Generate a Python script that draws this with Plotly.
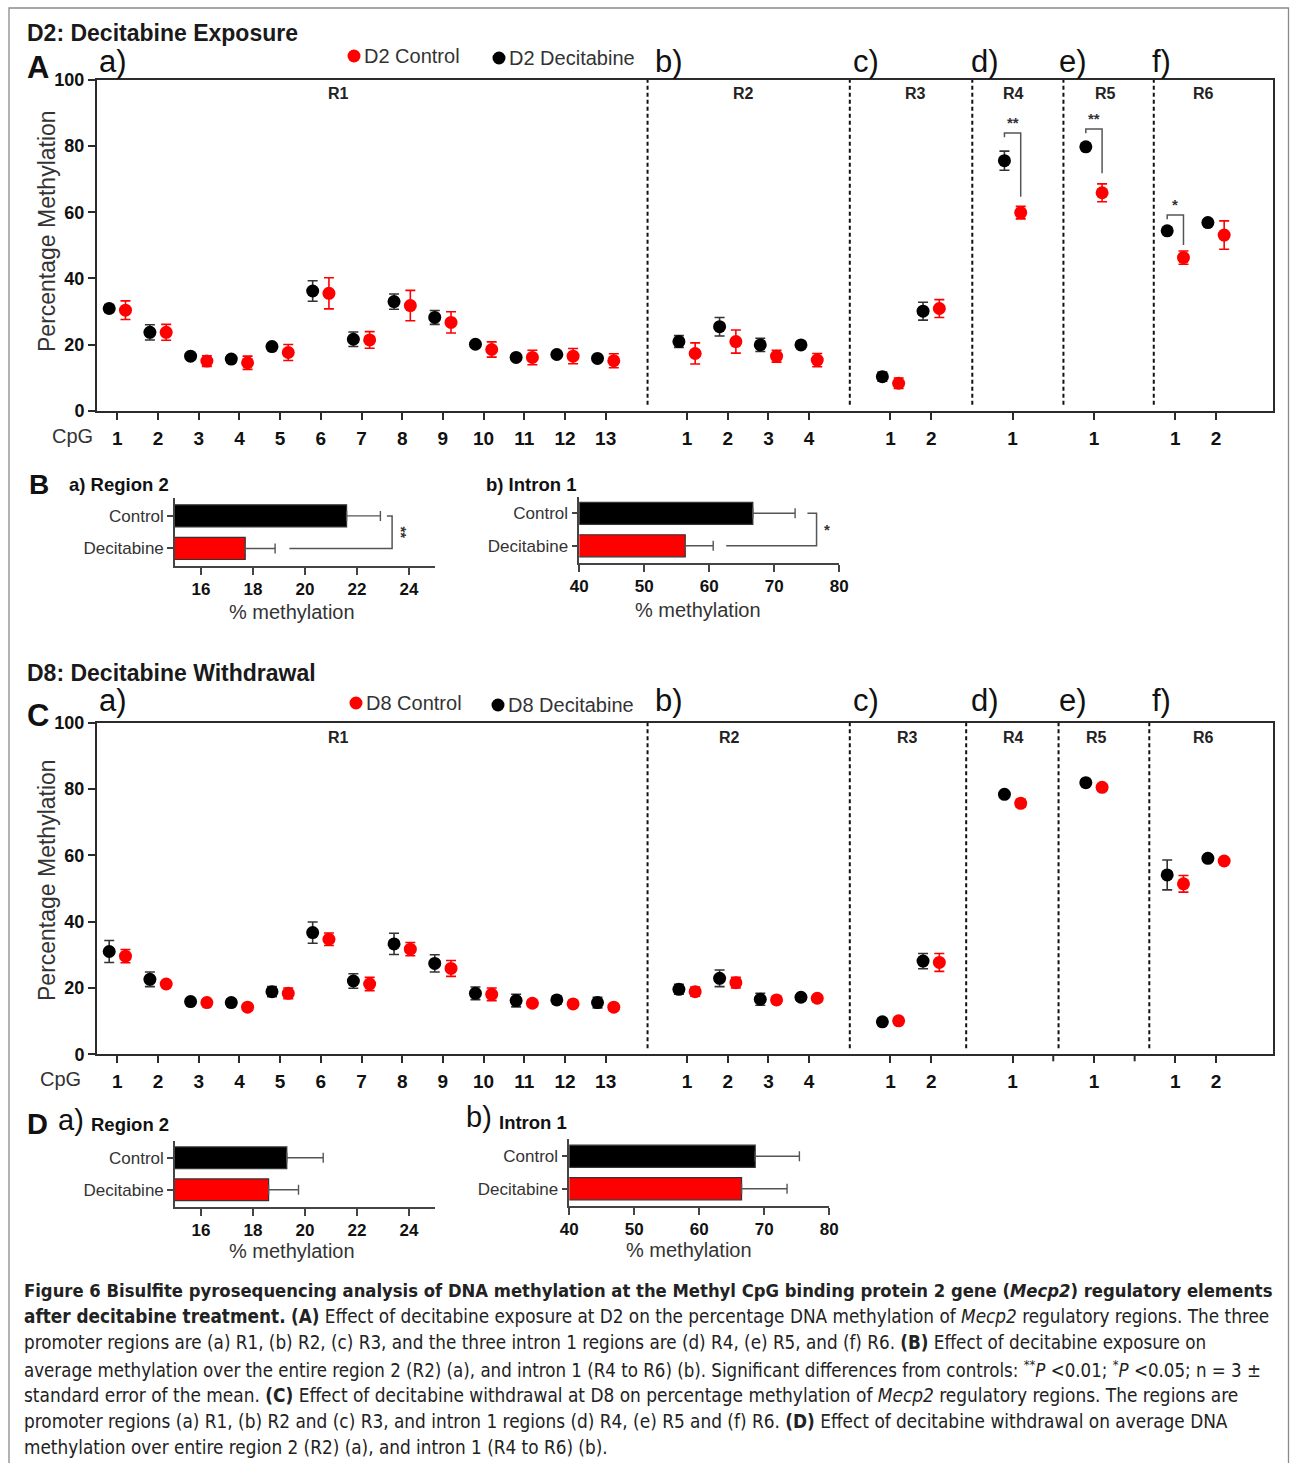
import plotly.graph_objects as go

W, H = 1290, 1463
FONT = "Liberation Sans, Arial, sans-serif"
CAP_FONT = "DejaVu Sans Condensed, Liberation Sans Narrow, Liberation Sans, sans-serif"

# ---------------- data ----------------
REGIONS = ["R1", "R2", "R3", "R4", "R5", "R6"]
REGION_TAGS = ["a)", "b)", "c)", "d)", "e)", "f)"]
CPG_PER_REGION = [13, 4, 2, 1, 1, 2]

A_DEC_MEAN = [30.9, 23.7, 16.5, 15.6, 19.4, 36.2, 21.6, 33.0, 28.2, 20.1, 16.1, 17.0, 15.8,
              20.9, 25.4, 19.9, 19.9, 10.3, 30.1, 75.6, 79.8, 54.4, 56.9]
A_DEC_SEM = [1.2, 2.3, 0.5, 1.0, 0.5, 3.1, 2.2, 2.3, 2.1, 0.8, 0.8, 0.8, 0.5,
             1.8, 2.8, 2.0, 0.7, 1.4, 2.7, 2.9, 0.8, 0.8, 0.8]
A_CON_MEAN = [30.4, 23.7, 15.0, 14.5, 17.6, 35.5, 21.4, 31.8, 26.7, 18.5, 16.1, 16.5, 15.1,
              17.3, 20.9, 16.5, 15.3, 8.3, 30.9, 59.9, 65.9, 46.3, 53.1]
A_CON_SEM = [2.8, 2.4, 1.6, 2.0, 2.4, 4.7, 2.5, 4.6, 3.2, 2.3, 2.2, 2.3, 2.1,
             3.2, 3.5, 1.8, 2.0, 1.6, 2.7, 1.9, 2.7, 2.0, 4.3]

C_DEC_MEAN = [31.0, 22.6, 15.9, 15.6, 18.9, 36.7, 22.1, 33.3, 27.4, 18.4, 16.2, 16.4, 15.6,
              19.6, 22.9, 16.6, 17.2, 9.8, 28.1, 78.4, 81.9, 54.1, 59.1]
C_DEC_SEM = [3.3, 2.2, 0.8, 1.0, 1.5, 3.2, 2.2, 3.2, 2.6, 1.9, 1.9, 1.2, 1.6,
             1.5, 2.5, 1.8, 1.0, 0.5, 2.3, 0.6, 0.6, 4.5, 1.0]
C_CON_MEAN = [29.6, 21.2, 15.6, 14.2, 18.4, 34.7, 21.2, 31.7, 25.9, 18.1, 15.4, 15.2, 14.2,
              18.9, 21.6, 16.4, 16.9, 10.1, 27.7, 75.7, 80.5, 51.4, 58.3]
C_CON_SEM = [2.0, 1.0, 0.6, 0.8, 1.6, 1.9, 2.0, 2.0, 2.4, 1.9, 1.0, 1.0, 1.0,
             1.4, 1.6, 1.0, 1.0, 0.8, 2.7, 1.2, 1.0, 2.5, 0.5]

A_SIG = [(3, "**"), (4, "**"), (5, "*")]
A_SIG_TOP = [84.0, 85.2, 59.2]
A_SIG_BOTTOM = [64.7, 71.8, 50.1]

BAR_GROUPS = ["Control", "Decitabine"]
B_R2_MEAN = [21.6, 17.7]
B_R2_SEM = [1.3, 1.15]
B_IN1_MEAN = [66.7, 56.3]
B_IN1_SEM = [6.5, 4.3]
D_R2_MEAN = [19.3, 18.6]
D_R2_SEM = [1.4, 1.15]
D_IN1_MEAN = [68.6, 66.5]
D_IN1_SEM = [6.8, 7.0]

R2_TICKS = [16, 18, 20, 22, 24]
IN1_TICKS = [40, 50, 60, 70, 80]


def px(x):
    return x / W


def py(y):
    return 1 - y / H


cpg_pos, cpg_lab, seps = [], [], []
cur = 1
for k, n in enumerate(CPG_PER_REGION):
    for i in range(n):
        cpg_pos.append(cur + i)
        cpg_lab.append(str(i + 1))
    if k < len(CPG_PER_REGION) - 1:
        seps.append(cur + n)
    cur += n + 1
region_start = []
c = 1
for n in CPG_PER_REGION:
    region_start.append(c)
    c += n + 1

fig = go.Figure()
shapes = []
annotations = []

BLACK = "#000000"
RED = "#ff0000"
AX = "#2b2b2b"


def ann(x, y, text, size, bold=False, xanchor="center", yanchor="middle", color="#1a1a1a",
        angle=0, family=FONT, xref="paper", yref="paper"):
    annotations.append(dict(
        x=px(x) if xref == "paper" else x, y=py(y) if yref == "paper" else y,
        xref=xref, yref=yref, text=text, showarrow=False, xanchor=xanchor, yanchor=yanchor,
        textangle=angle, font=dict(family=family, size=size, color=color,
                                   weight=700 if bold else 400)))


def scatter_panel(ax, dec_m, dec_s, con_m, con_s, dec_name, con_name):
    xs = "x" if ax == 1 else "x%d" % ax
    ys = "y" if ax == 1 else "y%d" % ax
    fig.add_trace(go.Scatter(
        x=[p - 0.2 for p in cpg_pos], y=dec_m, mode="markers", name=dec_name,
        xaxis=xs, yaxis=ys, showlegend=False,
        marker=dict(color=BLACK, size=13),
        error_y=dict(type="data", array=dec_s, visible=True, color="#333333",
                     thickness=1.6, width=5)))
    fig.add_trace(go.Scatter(
        x=[p + 0.2 for p in cpg_pos], y=con_m, mode="markers", name=con_name,
        xaxis=xs, yaxis=ys, showlegend=False,
        marker=dict(color=RED, size=13),
        error_y=dict(type="data", array=con_s, visible=True, color=RED,
                     thickness=1.6, width=5)))


scatter_panel(1, A_DEC_MEAN, A_DEC_SEM, A_CON_MEAN, A_CON_SEM, "D2 Decitabine", "D2 Control")
scatter_panel(2, C_DEC_MEAN, C_DEC_SEM, C_CON_MEAN, C_CON_SEM, "D8 Decitabine", "D8 Control")


def bar_panel(ax, means, sems):
    xs = "x%d" % ax
    ys = "y%d" % ax
    fig.add_trace(go.Bar(
        x=means, y=[1, 0], orientation="h", xaxis=xs, yaxis=ys, width=0.68,
        showlegend=False,
        marker=dict(color=[BLACK, RED], line=dict(color="#333333", width=1.2)),
        error_x=dict(type="data", symmetric=False, array=sems, arrayminus=[0, 0],
                     color="#555555", thickness=1.4, width=5)))


bar_panel(3, B_R2_MEAN, B_R2_SEM)
bar_panel(4, B_IN1_MEAN, B_IN1_SEM)
bar_panel(5, D_R2_MEAN, D_R2_SEM)
bar_panel(6, D_IN1_MEAN, D_IN1_SEM)

scatter_y = dict(range=[0, 100], tickvals=[0, 20, 40, 60, 80, 100], ticks="outside",
                 ticklen=7, tickwidth=2, tickcolor=AX, showline=True, linecolor=AX,
                 linewidth=2, mirror=True, showgrid=False, zeroline=False, automargin=False,
                 tickfont=dict(family=FONT, size=18, color="#111", weight=700))

scatter_x = dict(range=[0.5, 29.4], tickvals=cpg_pos, ticktext=cpg_lab, ticks="outside",
                 ticklen=7, tickwidth=2, tickcolor=AX, showline=True, linecolor=AX, linewidth=2,
                 mirror=True, showgrid=False, zeroline=False, ticklabelstandoff=2,
                 automargin=False,
                 tickfont=dict(family=FONT, size=19, color="#111", weight=700))

layout_axes = {}
layout_axes["xaxis"] = dict(domain=[px(97), px(1273)], anchor="y", **scatter_x)
layout_axes["yaxis"] = dict(domain=[py(410.7), py(80)], anchor="x", **scatter_y)
layout_axes["xaxis2"] = dict(domain=[px(97), px(1273)], anchor="y2", **scatter_x)
layout_axes["yaxis2"] = dict(domain=[py(1054.3), py(722.7)], anchor="x2", **scatter_y)

# unlabeled tick marks at the R5 / R6 gap slots of panel C
for s in seps[-2:]:
    shapes.append(dict(type="line", xref="x2", yref="paper", x0=s, x1=s,
                       y0=py(1054.3), y1=py(1061.3), line=dict(color=AX, width=2)))


def bar_axes(n, x0, x1, ybot, ytop, rng, ticks, yrng):
    layout_axes["xaxis%d" % n] = dict(
        domain=[px(x0), px(x1)], anchor="y%d" % n, range=rng, tickvals=ticks,
        ticks="outside", ticklen=7, tickwidth=1.6, tickcolor="#444", showline=True,
        linecolor="#444", linewidth=1.6, showgrid=False, zeroline=False, automargin=False,
        tickfont=dict(family=FONT, size=17, color="#111", weight=700))
    layout_axes["yaxis%d" % n] = dict(
        domain=[py(ybot), py(ytop)], anchor="x%d" % n, range=yrng, tickvals=[1, 0],
        ticktext=BAR_GROUPS, ticks="outside", ticklen=6, tickwidth=1.6, tickcolor="#444",
        showline=True, linecolor="#444", linewidth=1.6, showgrid=False, zeroline=False,
        automargin=False, tickfont=dict(family=FONT, size=17, color="#333"))


bar_axes(3, 175, 435, 566, 498, [15, 25], R2_TICKS, [-0.54, 1.55])
bar_axes(4, 579.3, 839.3, 562.7, 496.7, [40, 80], IN1_TICKS, [-0.52, 1.51])
bar_axes(5, 175, 435, 1206.7, 1141, [15, 25], R2_TICKS, [-0.53, 1.525])
bar_axes(6, 569.3, 829.3, 1206, 1139.3, [40, 80], IN1_TICKS, [-0.53, 1.52])

A_SEP_NUDGE = [0.03, 0.0, 0.01, 0.25, 0.47]
C_SEP_NUDGE = [0.03, 0.0, -0.14, 0.13, 0.36]
for xr, yr, nudges in (("x", "y", A_SEP_NUDGE), ("x2", "y2", C_SEP_NUDGE)):
    for s, nd in zip(seps, nudges):
        shapes.append(dict(type="line", xref=xr, yref=yr, x0=s + nd, x1=s + nd, y0=1.8, y1=100,
                           line=dict(color="#111", width=2, dash="4px,3px")))

for (ri, lab), top, bot in zip(A_SIG, A_SIG_TOP, A_SIG_BOTTOM):
    xc = region_start[ri]
    xl, xr_ = xc - 0.2, xc + 0.2
    shapes.append(dict(type="path", xref="x", yref="y",
                       path="M %f %f L %f %f L %f %f L %f %f" % (xl, top - 1.3, xl, top, xr_, top, xr_, bot),
                       line=dict(color="#555", width=1.5)))
    ann(xc, top + 3.3, lab, 15, bold=True, xref="x", yref="y", color="#333")


def bar_bracket(n, x_start, x_stub, x_v, label, lab_x, rot):
    xr, yr = "x%d" % n, "y%d" % n
    shapes.append(dict(type="path", xref=xr, yref=yr,
                       path="M %f %f L %f %f L %f %f L %f %f" % (x_stub, 1, x_v, 1, x_v, 0, x_start, 0),
                       line=dict(color="#555", width=1.5)))
    ann(lab_x, 0.5, label, 15, bold=True, xref=xr, yref=yr, color="#333", angle=rot)


bar_bracket(3, 19.4, 23.15, 23.35, "**", 23.72, 90)
bar_bracket(4, 62.6, 75.1, 76.5, "*", 78.1, 0)

ann(25, 33, "D2: Decitabine Exposure", 23, bold=True, xanchor="left", color="#1a1a1a")
ann(25, 673, "D8: Decitabine Withdrawal", 23, bold=True, xanchor="left", color="#1a1a1a")
ann(25, 68, "A", 31, bold=True, xanchor="left", color="#111")
ann(25, 716, "C", 31, bold=True, xanchor="left", color="#111")
ann(27, 484, "B", 28, bold=True, xanchor="left", color="#111")
ann(25, 1124, "D", 29, bold=True, xanchor="left", color="#111")

TAG_X = [113, 669, 866, 985, 1073, 1161]
for tag, tx in zip(REGION_TAGS, TAG_X):
    ann(tx, 61, tag, 31, color="#111")
    ann(tx, 700, tag, 31, color="#111")

A_REG_X = [338, 743, 915, 1013, 1105, 1203]
C_REG_X = [338, 729, 907, 1013, 1096, 1203]
for r, ax_, cx_ in zip(REGIONS, A_REG_X, C_REG_X):
    ann(ax_, 94, r, 16, bold=True, color="#222")
    ann(cx_, 737, r, 16, bold=True, color="#222")

ann(47, 231, "Percentage Methylation", 23, angle=-90, color="#333")
ann(47, 880, "Percentage Methylation", 23, angle=-90, color="#333")
ann(50, 436, "CpG", 20, xanchor="left", color="#333")
ann(38, 1079, "CpG", 20, xanchor="left", color="#333")

for (cx, cy, col, txt) in ((354, 56, RED, "D2 Control"), (499, 58, BLACK, "D2 Decitabine"),
                           (356, 703, RED, "D8 Control"), (498, 705, BLACK, "D8 Decitabine")):
    shapes.append(dict(type="circle", xref="paper", yref="paper", x0=px(cx - 6.5), x1=px(cx + 6.5),
                       y0=py(cy + 6.5), y1=py(cy - 6.5), fillcolor=col, line=dict(color=col, width=0)))
    ann(cx + 8, cy, txt, 20, xanchor="left", color="#333")

ann(67, 484, "a) Region 2", 18.5, bold=True, xanchor="left", color="#111")
ann(484, 484, "b) Intron 1", 18.5, bold=True, xanchor="left", color="#111")
ann(56, 1120, "a)", 29, xanchor="left", color="#111")
ann(89, 1124, "Region 2", 18.5, bold=True, xanchor="left", color="#111")
ann(464, 1117, "b)", 29, xanchor="left", color="#111")
ann(497, 1122, "Intron 1", 18.5, bold=True, xanchor="left", color="#111")
for (cx, cy) in ((292, 612), (698, 610), (292, 1251), (689, 1250)):
    ann(cx, cy, "% methylation", 20, color="#333")

CAPTION = [
    "<b>Figure 6 Bisulfite pyrosequencing analysis of DNA methylation at the Methyl CpG binding protein 2 gene (<i>Mecp2</i>) regulatory elements</b>",
    "<b>after decitabine treatment.</b> <b>(A)</b> Effect of decitabine exposure at D2 on the percentage DNA methylation of <i>Mecp2</i> regulatory regions. The three",
    "promoter regions are (a) R1, (b) R2, (c) R3, and the three intron 1 regions are (d) R4, (e) R5, and (f) R6. <b>(B)</b> Effect of decitabine exposure on",
    "average methylation over the entire region 2 (R2) (a), and intron 1 (R4 to R6) (b). Significant differences from controls: <sup>**</sup><i>P</i> &lt;0.01; <sup>*</sup><i>P</i> &lt;0.05; n = 3 \u00b1",
    "standard error of the mean. <b>(C)</b> Effect of decitabine withdrawal at D8 on percentage methylation of <i>Mecp2</i> regulatory regions. The regions are",
    "promoter regions (a) R1, (b) R2 and (c) R3, and intron 1 regions (d) R4, (e) R5 and (f) R6. <b>(D)</b> Effect of decitabine withdrawal on average DNA",
    "methylation over entire region 2 (R2) (a), and intron 1 (R4 to R6) (b).",
]
CAP_SIZES = [18.3, 18.8, 18.7, 18.55, 18.9, 18.85, 18.8]
for i, (line, sz) in enumerate(zip(CAPTION, CAP_SIZES)):
    ann(22, 1290 + i * 26.3, line, sz, xanchor="left", color="#222", family=CAP_FONT)

shapes.append(dict(type="path", xref="paper", yref="paper",
                   path="M %f %f L %f %f L %f %f L %f %f" % (px(9), py(1463), px(9), py(8),
                                                             px(1288.5), py(8), px(1288.5), py(1463)),
                   line=dict(color="#8a8a8a", width=1.3)))

fig.update_layout(
    width=W, height=H, margin=dict(l=0, r=0, t=0, b=0, pad=0, autoexpand=False),
    autosize=False, paper_bgcolor="white", plot_bgcolor="white",
    font=dict(family=FONT), shapes=shapes, annotations=annotations, showlegend=False,
    **layout_axes)

fig.write_html("out.html", config={"displayModeBar": False},
               post_script="document.body.style.margin='0';document.body.style.overflow='hidden';")
